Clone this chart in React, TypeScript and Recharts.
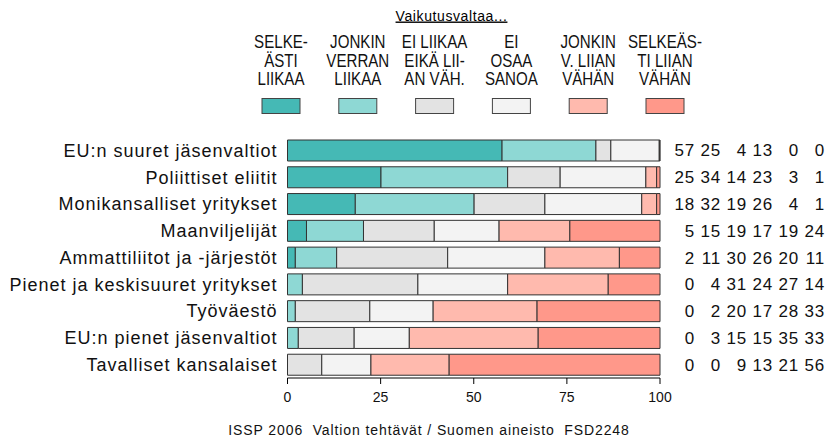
import { BarChart, Bar, XAxis, YAxis, Legend } from "recharts";

// rows, top to bottom
const categories = [
  "EU:n suuret jäsenvaltiot",
  "Poliittiset eliitit",
  "Monikansalliset yritykset",
  "Maanviljelijät",
  "Ammattiliitot ja -järjestöt",
  "Pienet ja keskisuuret yritykset",
  "Työväestö",
  "EU:n pienet jäsenvaltiot",
  "Tavalliset kansalaiset",
];

// bar shares (%)
const selkeastiLiikaa = [57.6, 25.1, 18.2, 5.1, 2.1, 0, 0, 0, 0];
const jonkinVerranLiikaa = [25.2, 34.0, 31.9, 15.3, 11.1, 4.0, 2.1, 2.9, 0];
const eiLiikaaEikaVahan = [4.0, 14.1, 19.0, 19.0, 29.8, 31.0, 20.0, 15.0, 9.2];
const eiOsaaSanoa = [13.0, 23.0, 26.0, 17.4, 26.1, 24.1, 17.0, 14.8, 13.2];
const jonkinVerranVahan = [0.1, 2.9, 4.0, 19.0, 20.0, 27.0, 27.9, 34.6, 21.0];
const selkeastiVahan = [0.1, 0.9, 0.9, 24.2, 10.9, 13.9, 33.0, 32.7, 56.6];

// numbers printed at the right
const shown1 = [57, 25, 18, 5, 2, 0, 0, 0, 0];
const shown2 = [25, 34, 32, 15, 11, 4, 2, 3, 0];
const shown3 = [4, 14, 19, 19, 30, 31, 20, 15, 9];
const shown4 = [13, 23, 26, 17, 26, 24, 17, 15, 13];
const shown5 = [0, 3, 4, 19, 20, 27, 28, 35, 21];
const shown6 = [0, 1, 1, 24, 11, 14, 33, 33, 56];

const seriesKeys = ["s1", "s2", "s3", "s4", "s5", "s6"];
const seriesNames = [
  "Selkeästi liikaa",
  "Jonkin verran liikaa",
  "Ei liikaa eikä liian vähän",
  "Ei osaa sanoa",
  "Jonkin verran liian vähän",
  "Selkeästi liian vähän",
];
const legendLines = [
  ["SELKE-", "ÄSTI", "LIIKAA"],
  ["JONKIN", "VERRAN", "LIIKAA"],
  ["EI LIIKAA", "EIKÄ LII-", "AN VÄH."],
  ["EI", "OSAA", "SANOA"],
  ["JONKIN", "V. LIIAN", "VÄHÄN"],
  ["SELKEÄS-", "TI LIIAN", "VÄHÄN"],
];
const seriesColors = ["#45b9b5", "#8ed8d4", "#e3e3e3", "#f3f3f3", "#ffbaae", "#ff988a"];
const xTicks = [0, 25, 50, 75, 100];

const seriesValues = [
  selkeastiLiikaa,
  jonkinVerranLiikaa,
  eiLiikaaEikaVahan,
  eiOsaaSanoa,
  jonkinVerranVahan,
  selkeastiVahan,
];
const shownValues = [shown1, shown2, shown3, shown4, shown5, shown6];

const data = categories.map((name, i) => {
  const row: Record<string, string | number> = { name };
  seriesKeys.forEach((k, j) => {
    row[k] = seriesValues[j][i];
  });
  return row;
});

const FONT = "'Liberation Sans', Arial, sans-serif";

const LegendContent = (props: any) => {
  const payload = props.payload ?? [];
  return (
    <svg width={827} height={120} style={{ display: "block" }}>
      <text
        x={451.5}
        y={20.5}
        textAnchor="middle"
        fontFamily={FONT}
        fontSize={14}
        letterSpacing={0.6}
        textDecoration="underline"
        fill="#000"
      >
        Vaikutusvaltaa...
      </text>
      {payload.map((entry: any) => {
        const i = seriesKeys.indexOf(entry.dataKey);
        const cx = 281 + 76.8 * i;
        return (
          <g key={entry.dataKey}>
            {legendLines[i].map((line, l) => (
              // condensed look of the original labels
              <g key={l} transform={`translate(${cx},${48 + 18.5 * l}) scale(0.84,1)`}>
                <text x={0} y={0} textAnchor="middle" fontFamily={FONT} fontSize={18} fill="#111">
                  {line}
                </text>
              </g>
            ))}
            <rect x={cx - 19} y={98.5} width={38} height={15} fill={seriesColors[i]} stroke="#444" />
          </g>
        );
      })}
    </svg>
  );
};

const RightTick = (props: any) => {
  const { y, payload } = props;
  const idx = payload.index;
  return (
    <g>
      {shownValues.map((vals, j) => (
        <text
          key={j}
          x={695 + 26 * j}
          y={y}
          dy="0.355em"
          textAnchor="end"
          fontFamily={FONT}
          fontSize={17}
          letterSpacing={0.8}
          fill="#111"
        >
          {vals[idx]}
        </text>
      ))}
    </g>
  );
};

export default function App() {
  return (
    <div style={{ position: "relative", width: 827, height: 446, background: "#fff" }}>
      <style>{`body{margin:0}`}</style>
      <BarChart
        width={827}
        height={446}
        data={data}
        layout="vertical"
        margin={{ top: 137, right: 0, bottom: 38, left: 0 }}
        barSize={21}
      >
        <XAxis
          type="number"
          domain={[0, 100]}
          ticks={xTicks}
          height={30}
          tickSize={6}
          tickMargin={8}
          stroke="#000"
          tick={{ fill: "#111", fontSize: 14, fontFamily: FONT }}
        />
        <YAxis
          yAxisId="left"
          type="category"
          dataKey="name"
          width={287.5}
          axisLine={false}
          tickLine={false}
          tickSize={0}
          tickMargin={10}
          interval={0}
          tick={{ fill: "#111", fontSize: 18, fontFamily: FONT, letterSpacing: 1 }}
        />
        <YAxis
          yAxisId="right"
          orientation="right"
          type="category"
          dataKey="name"
          width={167}
          axisLine={false}
          tickLine={false}
          interval={0}
          tick={<RightTick />}
        />
        <Legend
          layout="horizontal"
          verticalAlign="middle"
          align="center"
          wrapperStyle={{ top: 0, left: 0, width: 827, height: 120 }}
          content={<LegendContent />}
        />
        {seriesKeys.map((k, j) => (
          <Bar
            key={k}
            yAxisId="left"
            dataKey={k}
            name={seriesNames[j]}
            stackId="a"
            fill={seriesColors[j]}
            stroke="#333"
            strokeWidth={1}
            isAnimationActive={false}
          />
        ))}
      </BarChart>
      <svg
        width={827}
        height={36}
        style={{ position: "absolute", left: 0, top: 410, display: "block" }}
      >
        <text
          x={429}
          y={25}
          textAnchor="middle"
          fontFamily={FONT}
          fontSize={14}
          letterSpacing={0.9}
          fill="#111"
          style={{ whiteSpace: "pre" }}
        >
          {"ISSP 2006  Valtion tehtävät / Suomen aineisto  FSD2248"}
        </text>
      </svg>
    </div>
  );
}
